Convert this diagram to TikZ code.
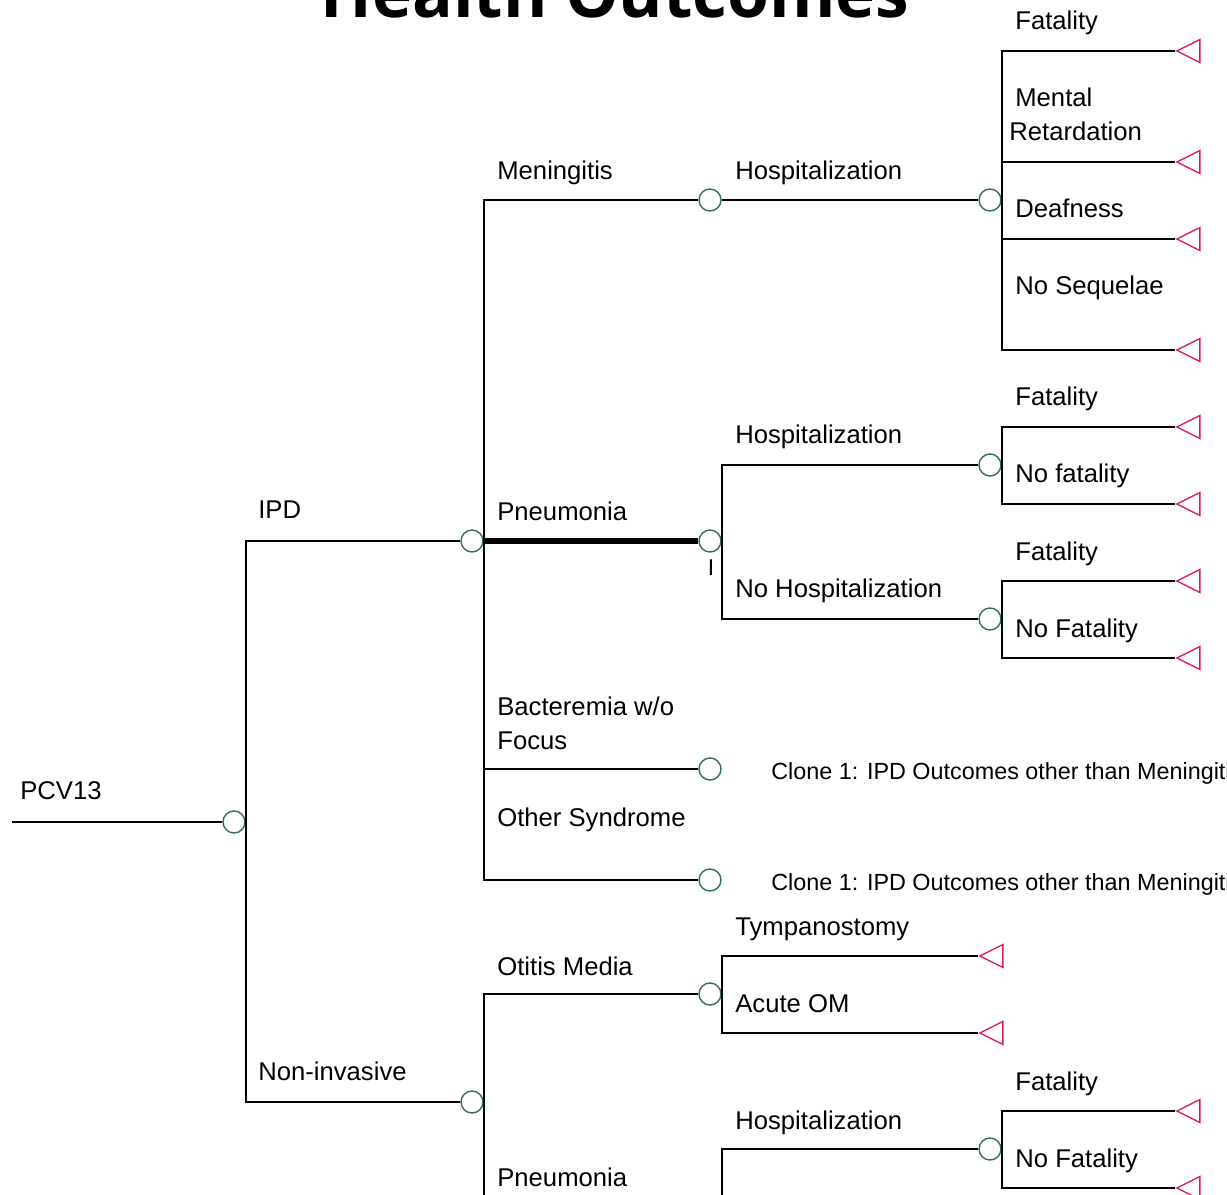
\documentclass[tikz,border=0pt]{standalone}
\usepackage{fontspec}
\setmainfont{Liberation Sans}
\newfontfamily\titlefont{Open Sans}
\usetikzlibrary{shapes.geometric}
\definecolor{chancegreen}{RGB}{50,110,90}
\definecolor{termred}{RGB}{220,30,80}
\tikzset{
  branch/.style={line width=1.15pt, black},
  thickbranch/.style={line width=3pt, black},
  chance/.style={circle, draw=chancegreen, line width=0.8pt, fill=white, inner sep=0pt, minimum size=0.44cm},
  term/.style={isosceles triangle, isosceles triangle stretches, shape border rotate=180, draw=termred, line width=0.8pt, inner sep=0pt, minimum width=0.46cm, minimum height=0.46cm, anchor=apex},
  lbl/.style={anchor=base west, inner sep=0pt, font=\fontsize{14.6}{17}\selectfont},
  clonelbl/.style={anchor=base west, inner sep=0pt, font=\fontsize{13.3}{16}\selectfont},
  titletxt/.style={inner sep=0pt, font=\titlefont\bfseries\fontsize{38.5}{44}\selectfont}
}

\begin{document}
\begin{tikzpicture}[x=0.02cm, y=-0.02cm]
\useasboundingbox (0,0) rectangle (1227,1195);

% Title (cut by the top edge)
\node[titletxt, anchor=base] (title) at (615,18) {Health Outcomes};

% Chance nodes
\coordinate (start) at (12,822);
\node[chance] (root) at (234,822) {};
\node[chance] (ipd) at (472,541) {};
\node[chance] (noninv) at (472,1102) {};
\node[chance] (men) at (710,200) {};
\node[chance] (pneu) at (710,541) {};
\node[chance] (bact) at (710,769) {};
\node[chance] (other) at (710,880) {};
\node[chance] (otitis) at (710,994) {};
\node[chance] (npneu) at (710,1207) {};
\node[chance] (menhosp) at (990,200) {};
\node[chance] (phosp) at (990,465) {};
\node[chance] (pnohosp) at (990,619) {};
\node[chance] (nphosp) at (990,1149) {};

% Terminal nodes
\foreach \n/\y in {mf/51, mmr/162, md/239, mns/350, hf/427, hnf/504, nf/581, nnf/658, npf/1111, npnf/1188}
  \node[term] (t\n) at (1175,\y) {};
\node[term] (ttym) at (978,956) {};
\node[term] (tacu) at (978,1033) {};

% Branches
\draw[branch] (start) -- (root.west);
\draw[branch] (root.east) |- (ipd.west);
\draw[branch] (root.east) |- (noninv.west);
\draw[branch] (ipd.east) |- (men.west);
\draw[thickbranch] (ipd.east) -- (pneu.west);
\draw[branch] (ipd.east) |- (bact.west);
\draw[branch] (ipd.east) |- (other.west);
\draw[branch] (noninv.east) |- (otitis.west);
\draw[branch] (noninv.east) |- (npneu.west);
\draw[branch] (men.east) -- (menhosp.west);
\draw[branch] (pneu.east) |- (phosp.west);
\draw[branch] (pneu.east) |- (pnohosp.west);
\draw[branch] (npneu.east) |- (nphosp.west);
\foreach \t in {mf, mmr, md, mns}
  \draw[branch] (menhosp.east) |- (t\t.apex);
\foreach \t in {hf, hnf}
  \draw[branch] (phosp.east) |- (t\t.apex);
\foreach \t in {nf, nnf}
  \draw[branch] (pnohosp.east) |- (t\t.apex);
\foreach \t in {npf, npnf}
  \draw[branch] (nphosp.east) |- (t\t.apex);
\draw[branch] (otitis.east) |- (ttym.apex);
\draw[branch] (otitis.east) |- (tacu.apex);

% Labels
\node[lbl] (lpcv) at (20,799) {PCV13};
\node[lbl] (lipd) at (258,519) {IPD};
\node[lbl] (lnon) at (258,1080) {Non-invasive};
\node[lbl] (lmen) at (497,180) {Meningitis};
\node[lbl] (lpneu) at (497,521) {Pneumonia};
\node[lbl] (lbact1) at (497,715) {Bacteremia w/o};
\node[lbl] (lbact2) at (497,749) {Focus};
\node[lbl] (lother) at (497,826) {Other Syndrome};
\node[lbl] (lotitis) at (497,975) {Otitis Media};
\node[lbl] (lnpneu) at (497,1186) {Pneumonia};
\node[lbl] (lmhosp) at (735,180) {Hospitalization};
\node[lbl] (lphosp) at (735,444) {Hospitalization};
\node[lbl] (lpnohosp) at (735,598) {No Hospitalization};
\node[lbl] (ltym) at (735,935) {Tympanostomy};
\node[lbl] (lacu) at (735,1012) {Acute OM};
\node[lbl] (lnphosp) at (735,1129) {Hospitalization};
\node[lbl] (lmf) at (1015,30) {Fatality};
\node[lbl] (lmmr1) at (1015,107) {Mental};
\node[lbl] (lmmr2) at (1009,141) {Retardation};
\node[lbl] (lmd) at (1015,218) {Deafness};
\node[lbl] (lmns) at (1015,295) {No Sequelae};
\node[lbl] (lhf) at (1015,406) {Fatality};
\node[lbl] (lhnf) at (1015,483) {No fatality};
\node[lbl] (lnf) at (1015,561) {Fatality};
\node[lbl] (lnnf) at (1015,638) {No Fatality};
\node[lbl] (lnpf) at (1015,1090) {Fatality};
\node[lbl] (lnpnf) at (1015,1167) {No Fatality};
\node[clonelbl] (lclone1) at (771,779) {Clone 1: IPD Outcomes other than Meningitis};
\node[clonelbl] (lclone2) at (771,890) {Clone 1: IPD Outcomes other than Meningitis};
\node[font=\fontsize{13}{15}\selectfont, inner sep=0pt] (pmark) at (711,568) {I};

\end{tikzpicture}
\end{document}
